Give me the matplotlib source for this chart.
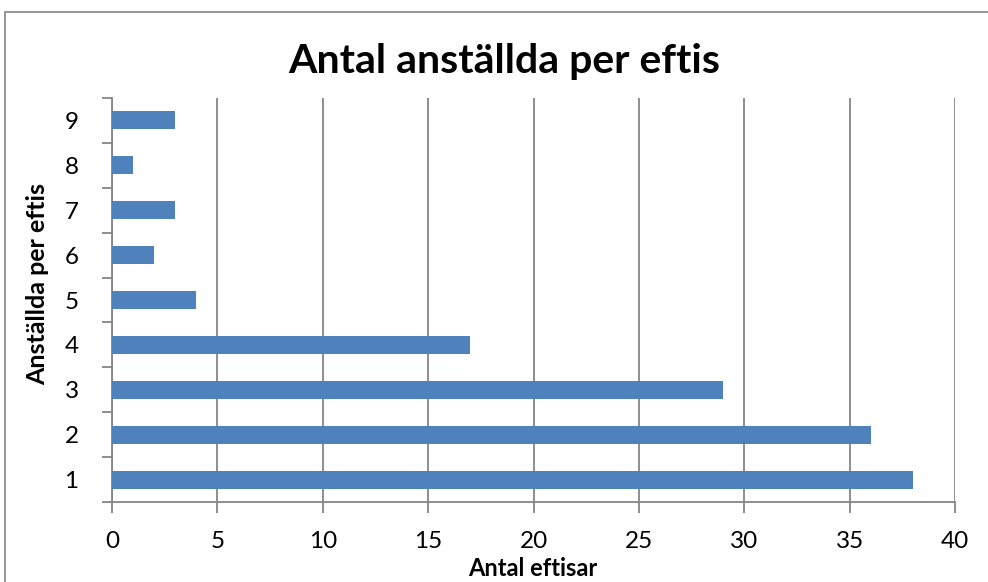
import numpy as np
import matplotlib.pyplot as plt
from matplotlib.patches import Rectangle

# data
categories = [1, 2, 3, 4, 5, 6, 7, 8, 9]
counts = [38, 36, 29, 17, 4, 2, 3, 1, 3]
x_ticks = [0, 5, 10, 15, 20, 25, 30, 35, 40]

plt.rcParams["font.family"] = ["Lato", "DejaVu Sans"]

bar_color = "#4F81BD"
line_color = "#868686"

fig = plt.figure(figsize=(9.88, 5.82), dpi=100)
ax = fig.add_axes([112 / 988, 1 - 502 / 582, (955 - 112) / 988, (502 - 98) / 582])

# outer chart border (runs off the right and bottom edge)
fig.patches.append(Rectangle((4.5 / 988, -0.05), 1.2, 1 - 12 / 582 + 0.05,
                             transform=fig.transFigure, fill=False,
                             edgecolor="#8c8c8c", linewidth=1.3))

ax.barh(categories, counts, height=0.4, color=bar_color, zorder=3)

ax.set_xlim(0, 40)
ax.set_ylim(0.5, 9.5)
ax.set_xticks(x_ticks)
ax.set_yticks(categories)
ax.set_yticks(np.arange(0.5, 10, 1), minor=True)
ax.tick_params(axis="y", which="major", length=0, labelsize=17.5, pad=24)
ax.tick_params(axis="y", which="minor", length=7, width=1.3, color=line_color)
ax.tick_params(axis="x", length=8, width=1.3, color=line_color, labelsize=17.5, pad=13)

ax.grid(True, axis="x", color=line_color, linewidth=1.3, zorder=0)
for s in ["top", "right"]:
    ax.spines[s].set_visible(False)
for s in ["left", "bottom"]:
    ax.spines[s].set_color(line_color)
    ax.spines[s].set_linewidth(1.3)

fig.text(504 / 988, 1 - 61 / 582, "Antal anställda per eftis", ha="center", va="center",
         fontsize=29.5, fontweight="bold")
fig.text(533 / 988, 1 - 569 / 582, "Antal eftisar", ha="center", va="center",
         fontsize=17, fontweight="bold")
fig.text(38 / 988, 1 - 284 / 582, "Anställda per eftis", ha="center", va="center",
         rotation=90, fontsize=18, fontweight="bold")

fig.savefig("out.png", dpi=100)
